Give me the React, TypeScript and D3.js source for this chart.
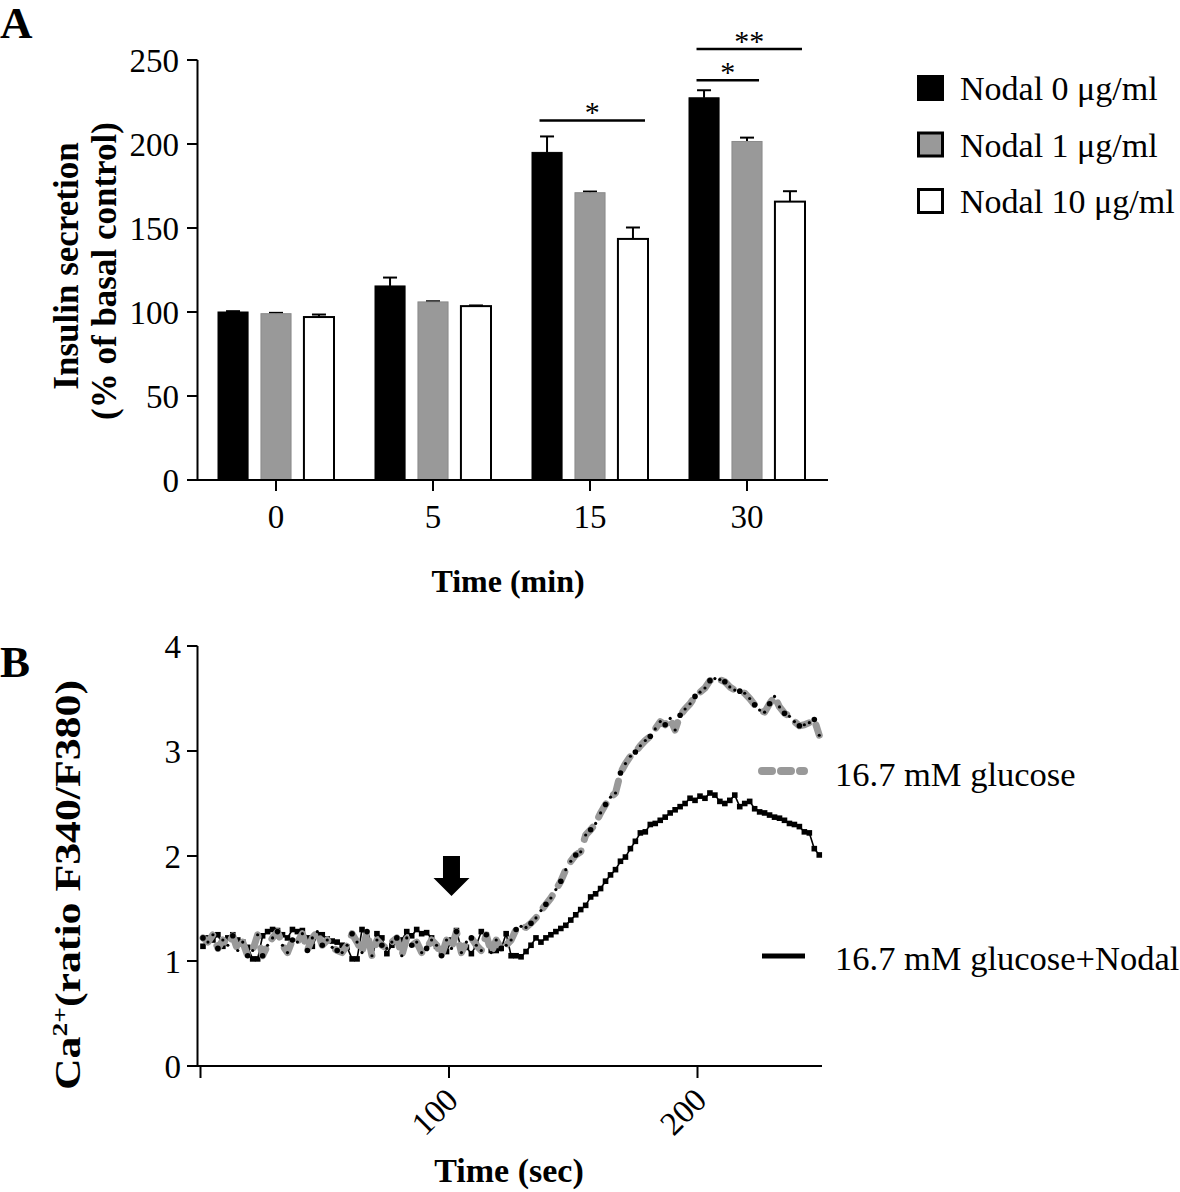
import React from "react";
import * as d3 from "d3";

// ---------- Panel A data ----------
const timeGroups = ["0", "5", "15", "30"];
const seriesLabels = ["Nodal 0 μg/ml", "Nodal 1 μg/ml", "Nodal 10 μg/ml"];
const nodal0Mean = [100, 115.5, 195, 227.5];
const nodal0Err = [0.5, 5, 9.5, 4.5];
const nodal1Mean = [99, 106, 171, 201.5];
const nodal1Err = [0.5, 0.4, 0.7, 2.3];
const nodal10Mean = [97, 103.5, 143.5, 165.7];
const nodal10Err = [1.5, 0.4, 6.8, 6.2];
const yTicksA = [0, 50, 100, 150, 200, 250];
const sigBrackets = [
  { group: "15", from: 0, to: 2, level: 214, label: "*" },
  { group: "30", from: 0, to: 1, level: 238, label: "*" },
  { group: "30", from: 0, to: 2, level: 256.5, label: "**" },
];

// ---------- Panel B data ----------
const caTimes = d3.range(1, 250, 2);
const glucoseRatio = [
  1.22, 1.18, 1.25, 1.12, 1.2, 1.15, 1.24, 1.1, 1.18, 1.05,
  1.1, 1.25, 1.05, 1.15, 1.22, 1.28, 1.15, 1.08, 1.2, 1.18,
  1.26, 1.1, 1.22, 1.28, 1.15, 1.2, 1.13, 1.1, 1.08, 1.15,
  1.26, 1.18, 1.08, 1.28, 1.05, 1.2, 1.15, 1.12, 1.18, 1.22,
  1.05, 1.22, 1.15, 1.18, 1.08, 1.12, 1.2, 1.15, 1.05, 1.2,
  1.12, 1.28, 1.08, 1.18, 1.22, 1.15, 1.1, 1.25, 1.08, 1.2,
  1.12, 1.15,
  1.2, 1.3, 1.33, 1.32, 1.36, 1.41, 1.48, 1.54, 1.6, 1.68,
  1.76, 1.87, 1.95, 2.01, 2.04, 2.2, 2.25, 2.31, 2.41, 2.49,
  2.56, 2.6, 2.79, 2.88, 2.95, 2.99, 3.05, 3.1, 3.14, 3.21,
  3.28, 3.25, 3.31, 3.2, 3.34, 3.4, 3.45, 3.52, 3.56, 3.6,
  3.67, 3.69, 3.68, 3.66, 3.61, 3.58, 3.57, 3.55, 3.5, 3.44,
  3.39, 3.37, 3.45, 3.52, 3.42, 3.36, 3.33, 3.28, 3.24, 3.25,
  3.27, 3.3, 3.15,
];
const nodalRatio = [
  1.14, 1.22, 1.2, 1.25, 1.14, 1.22, 1.25, 1.2, 1.18, 1.13,
  1.02, 1.02, 1.24, 1.28, 1.3, 1.29, 1.25, 1.22, 1.3, 1.28,
  1.29, 1.22, 1.14, 1.25, 1.25, 1.21, 1.19, 1.18, 1.15, 1.13,
  1.02, 1.02, 1.3, 1.22, 1.12, 1.26, 1.22, 1.07, 1.15, 1.18,
  1.2, 1.28, 1.24, 1.3, 1.26, 1.27, 1.22, 1.14, 1.07, 1.09,
  1.2, 1.29, 1.11, 1.13, 1.07, 1.15, 1.28, 1.25, 1.1, 1.1,
  1.12, 1.26,
  1.05, 1.05, 1.04, 1.09, 1.15, 1.22, 1.18, 1.22, 1.25, 1.28,
  1.31, 1.34, 1.39, 1.44, 1.49, 1.53, 1.61, 1.64, 1.69, 1.76,
  1.82, 1.87, 1.95, 1.99, 2.07, 2.14, 2.22, 2.23, 2.3, 2.31,
  2.34, 2.37, 2.41, 2.44, 2.47, 2.5, 2.55, 2.53, 2.57, 2.55,
  2.6, 2.58, 2.52, 2.5, 2.53, 2.58, 2.47, 2.5, 2.52, 2.45,
  2.42, 2.41, 2.39, 2.37, 2.36, 2.34, 2.31, 2.3, 2.28, 2.23,
  2.22, 2.07, 2.01,
];
const yTicksB = [0, 1, 2, 3, 4];
const xTicksB = [0, 100, 200];
const xTickLabelsB = ["", "100", "200"];
const arrowTime = 101;
const legendB = ["16.7 mM glucose", "16.7 mM glucose+Nodal"];

const FONT = "'Liberation Serif', 'Times New Roman', serif";
const GRAY = "#999999";

export default function App() {
  // ---------- Panel A scales ----------
  const yA = d3.scaleLinear().domain([0, 250]).range([480, 60]);
  const xGroup = d3.scaleBand().domain(timeGroups).range([197.5, 825.5]).paddingInner(0).paddingOuter(0);
  const xBar = d3
    .scaleBand<number>()
    .domain([0, 1, 2])
    .range([20.5, 136.5])
    .paddingInner(0.3)
    .paddingOuter(0);
  const bw = xBar.bandwidth();
  const means = [nodal0Mean, nodal1Mean, nodal10Mean];
  const errs = [nodal0Err, nodal1Err, nodal10Err];
  const fills = ["#000000", GRAY, "#ffffff"];
  const strokes = ["#000000", "#8a8a8a", "#000000"];
  const barX = (g: string, s: number) => (xGroup(g) as number) + (xBar(s) as number);

  // ---------- Panel B scales ----------
  const xB = d3.scaleLinear().domain([0, 250]).range([200.5, 821.75]);
  const yB = d3.scaleLinear().domain([0, 4]).range([1066, 646]);
  const lineGen = d3
    .line<number>()
    .x((_, i) => xB(caTimes[i]))
    .y((d) => yB(d));

  const ax = xB(arrowTime);
  const arrowPts = [
    [ax - 8.5, yB(2.0)],
    [ax + 8.5, yB(2.0)],
    [ax + 8.5, yB(1.79)],
    [ax + 18, yB(1.79)],
    [ax, yB(1.62)],
    [ax - 18, yB(1.79)],
    [ax - 8.5, yB(1.79)],
  ]
    .map((p) => p.join(","))
    .join(" ");

  return (
    <svg
      width={1180}
      height={1192}
      style={{ position: "absolute", left: 0, top: 0, background: "#fff" }}
      fontFamily={FONT}
    >
      <rect x={0} y={0} width={1180} height={1192} fill="#fff" />
      {/* Panel labels */}
      <text x={0} y={38} fontSize={45} fontWeight="bold">A</text>
      <text x={0} y={677} fontSize={45} fontWeight="bold">B</text>

      {/* ---------- Panel A ---------- */}
      {timeGroups.map((g, gi) =>
        [0, 1, 2].map((s) => {
          const x = barX(g, s);
          const v = means[s][gi];
          const e = errs[s][gi];
          const cx = x + bw / 2;
          return (
            <g key={`b${gi}-${s}`}>
              <line x1={cx} x2={cx} y1={yA(v)} y2={yA(v + e)} stroke="#000" strokeWidth={2} />
              <line x1={cx - 7} x2={cx + 7} y1={yA(v + e)} y2={yA(v + e)} stroke="#000" strokeWidth={2} />
              <rect
                x={x}
                y={yA(v)}
                width={bw}
                height={yA(0) - yA(v)}
                fill={fills[s]}
                stroke={strokes[s]}
                strokeWidth={s === 2 ? 2 : 1}
              />
            </g>
          );
        })
      )}
      {/* axes A */}
      <line x1={197.5} x2={197.5} y1={yA(250)} y2={yA(0)} stroke="#000" strokeWidth={2} />
      <line x1={196.5} x2={828} y1={yA(0)} y2={yA(0)} stroke="#000" strokeWidth={2} />
      {yTicksA.map((t) => (
        <g key={`ya${t}`}>
          <line x1={187} x2={197.5} y1={yA(t)} y2={yA(t)} stroke="#000" strokeWidth={2} />
          <text x={179} y={yA(t)} dy="0.35em" textAnchor="end" fontSize={33}>{t}</text>
        </g>
      ))}
      {timeGroups.map((g) => {
        const cx = (xGroup(g) as number) + xGroup.bandwidth() / 2;
        return (
          <g key={`xa${g}`}>
            <line x1={cx} x2={cx} y1={yA(0)} y2={yA(0) + 11} stroke="#000" strokeWidth={2} />
            <text x={cx} y={528} textAnchor="middle" fontSize={33}>{g}</text>
          </g>
        );
      })}
      <text x={508} y={592} textAnchor="middle" fontSize={32} fontWeight="bold">Time (min)</text>
      <text transform="translate(78,266) rotate(-90)" textAnchor="middle" fontSize={35} fontWeight="bold">
        Insulin secretion
      </text>
      <text transform="translate(116,271) rotate(-90)" textAnchor="middle" fontSize={35} fontWeight="bold">
        (% of basal control)
      </text>
      {/* significance */}
      {sigBrackets.map((b, i) => {
        const x0 = barX(b.group, b.from) + bw * 0.25;
        const x1 = barX(b.group, b.to) + bw * 0.9;
        const y = yA(b.level);
        return (
          <g key={`sig${i}`}>
            <line x1={x0} x2={x1} y1={y} y2={y} stroke="#000" strokeWidth={2.5} />
            <text x={(x0 + x1) / 2} y={y + 2} textAnchor="middle" fontSize={30}>{b.label}</text>
          </g>
        );
      })}
      {/* legend A */}
      {seriesLabels.map((lab, i) => (
        <g key={`lg${i}`}>
          <rect
            x={918.5}
            y={76.5 + i * 56.5}
            width={24}
            height={23}
            fill={fills[i]}
            stroke="#000"
            strokeWidth={3}
          />
          <text x={960} y={100 + i * 56.5} fontSize={34}>{lab}</text>
        </g>
      ))}

      {/* ---------- Panel B ---------- */}
      <line x1={197.5} x2={197.5} y1={yB(4)} y2={yB(0)} stroke="#000" strokeWidth={2} />
      <line x1={196.5} x2={822} y1={yB(0)} y2={yB(0)} stroke="#000" strokeWidth={2} />
      {yTicksB.map((t) => (
        <g key={`yb${t}`}>
          <line x1={187} x2={197.5} y1={yB(t)} y2={yB(t)} stroke="#000" strokeWidth={2} />
          <text x={181} y={yB(t)} dy="0.35em" textAnchor="end" fontSize={33}>{t}</text>
        </g>
      ))}
      {xTicksB.map((t, i) => (
        <g key={`xb${t}`}>
          <line x1={xB(t)} x2={xB(t)} y1={yB(0)} y2={yB(0) + 12} stroke="#000" strokeWidth={2} />
          {xTickLabelsB[i] && (
            <text
              transform={`translate(${xB(t) + 11},${1102}) rotate(-45)`}
              textAnchor="end"
              fontSize={33}
            >
              {xTickLabelsB[i]}
            </text>
          )}
        </g>
      ))}
      <text x={509} y={1182} textAnchor="middle" fontSize={34} fontWeight="bold">Time (sec)</text>
      <text
        transform="translate(80,1090) rotate(-90)"
        textAnchor="start"
        fontSize={35}
        fontWeight="bold"
        textLength={410}
        lengthAdjust="spacingAndGlyphs"
      >
        <tspan>Ca</tspan>
        <tspan dy={-13} fontSize={22}>2+</tspan>
        <tspan dy={13}>(ratio F340/F380)</tspan>
      </text>

      {/* nodal (black, squares) */}
      <path d={lineGen(nodalRatio) || ""} fill="none" stroke="#000" strokeWidth={1.6} />
      {nodalRatio.map((v, i) => (
        <rect key={`sq${i}`} x={xB(caTimes[i]) - 2.8} y={yB(v) - 2.8} width={5.6} height={5.6} fill="#000" />
      ))}
      {/* glucose (gray dashed, dots) */}
      <path
        d={lineGen(glucoseRatio) || ""}
        fill="none"
        stroke={GRAY}
        strokeWidth={7}
        strokeDasharray="15,12"
        strokeLinecap="round"
        strokeLinejoin="round"
      />
      {glucoseRatio.map((v, i) => (
        <circle key={`dt${i}`} cx={xB(caTimes[i])} cy={yB(v)} r={i % 3 === 0 ? 2.8 : 1.6} fill="#000" />
      ))}

      {/* arrow */}
      <polygon points={arrowPts} fill="#000" />

      {/* legend B */}
      <line
        x1={762}
        x2={804}
        y1={771}
        y2={771}
        stroke={GRAY}
        strokeWidth={8}
        strokeDasharray="10,9"
        strokeLinecap="round"
      />
      <text x={835} y={786} fontSize={34.5}>{legendB[0]}</text>
      <line x1={762} x2={805} y1={956} y2={956} stroke="#000" strokeWidth={5} />
      <text x={835} y={970} fontSize={34.5}>{legendB[1]}</text>
    </svg>
  );
}
